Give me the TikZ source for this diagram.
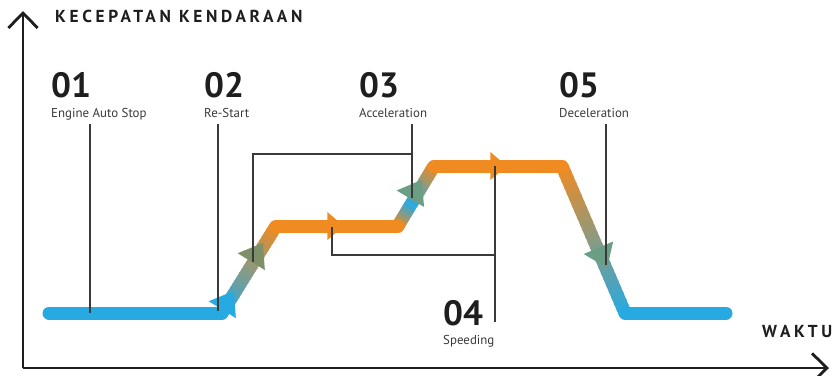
\documentclass[tikz,border=0pt]{standalone}
\usepackage{fontspec}
\setmainfont{PT Sans}
\newfontfamily\spaced[LetterSpace=21]{PT Sans}
\usetikzlibrary{arrows.meta,calc}

\definecolor{flowblue}{HTML}{27A9E1}
\definecolor{flowor}{HTML}{F08B21}
\definecolor{tipolive}{HTML}{7E9068}
\definecolor{tipgreen}{HTML}{6A9E85}
\definecolor{axisdark}{HTML}{1E1E1E}
\definecolor{leaddark}{HTML}{3A3A3A}

\tikzset{
  flowbar/.style={line width=3.9mm, line cap=round},
  leadline/.style={line width=0.55mm, draw=leaddark},
  axisline/.style={line width=0.85mm, draw=axisdark, -{Straight Barb[length=4.5mm, width=8.8mm]}},
  numlbl/.style={anchor=base west, inner sep=0pt, text=axisdark, font=\bfseries\fontsize{30}{30}\selectfont},
  sublbl/.style={anchor=base west, inner sep=0pt, text=leaddark, font=\fontsize{11}{11}\selectfont},
  titlelbl/.style={anchor=base west, inner sep=0pt, text=axisdark, font=\spaced\bfseries\fontsize{14.8}{14.8}\selectfont},
  flowtip/.pic={\fill[pic actions] (13,0) -- (-9,16) -- (-9,-16) -- cycle;}
}

% fading piece of the bar, from #1 to #2, colour #3 to #4
\newcommand\fadeseg[4]{%
  \foreach \i in {0,...,23}{
    \pgfmathsetmacro\ta{\i/24}
    \pgfmathsetmacro\tb{min(1,(\i+1.4)/24)}
    \pgfmathsetmacro\mix{100-100*(\i+0.5)/24}
    \draw[line width=3.9mm, draw=#3!\mix!#4] ($(#1)!\ta!(#2)$) -- ($(#1)!\tb!(#2)$);
  }}

\begin{document}
\begin{tikzpicture}[x=0.3mm, y=-0.3mm]
  \useasboundingbox (0,0) rectangle (835,375);

  % axes
  \coordinate (o) at (23,368);
  \draw[axisline] (o) -- (23,11) coordinate (ytop);
  \draw[axisline] (o) -- (829,368) coordinate (xend);
  \node[titlelbl] (ylbl) at (55,22) {KECEPATAN KENDARAAN};
  \node[titlelbl] (xlbl) at (762,337) {WAKTU};

  % corners of the speed curve
  \coordinate (p0) at (49,313);
  \coordinate (p1) at (222,313);
  \coordinate (p2) at (276,226);
  \coordinate (p3) at (398,226);
  \coordinate (p4) at (434,166);
  \coordinate (p5) at (562,166);
  \coordinate (p6) at (625,313);
  \coordinate (p7) at (726,313);
  \coordinate (m2) at ($(p3)!0.35!(p4)$);

  \fadeseg{p1}{p2}{flowblue}{flowor}
  \fadeseg{p3}{m2}{flowor}{flowblue}
  \fadeseg{m2}{p4}{flowblue}{flowor}
  \fadeseg{p5}{p6}{flowor}{flowblue}
  \draw[flowbar, flowblue] (p0) -- (p1);
  \draw[flowbar, flowor] (p2) -- (p3);
  \draw[flowbar, flowor] (p4) -- (p5);
  \draw[flowbar, flowblue] (p6) -- (p7);

  % direction marks
  \pic[rotate=58.2, fill=flowblue] at (227,302) {flowtip};
  \pic[rotate=58.2, fill=tipolive] at (256,254) {flowtip};
  \pic[fill=flowor, xscale=0.75, yscale=0.88] at (334,226) {flowtip};
  \pic[rotate=59, fill=tipgreen] at (415,191) {flowtip};
  \pic[fill=flowor, xscale=0.75, yscale=0.88] at (497,166) {flowtip};
  \pic[rotate=-66.8, fill=tipgreen] at (602,256) {flowtip};

  % leader ends
  \coordinate (t1) at (90,313);
  \coordinate (t2) at (218,311);
  \coordinate (t3) at (412,198);
  \coordinate (j3) at (412,154);
  \coordinate (t3b) at (253,262);
  \coordinate (t4) at (495,166);
  \coordinate (j4) at (495,255);
  \coordinate (t4b) at (332,227);
  \coordinate (t5) at (606,265);

  % labels
  \node[numlbl] (n1) at (51,97) {01};
  \node[sublbl] (c1) at (51,117) {Engine Auto Stop};
  \node[numlbl] (n2) at (204,97) {02};
  \node[sublbl] (c2) at (204,117) {Re-Start};
  \node[numlbl] (n3) at (359,97) {03};
  \node[sublbl] (c3) at (359,117) {Acceleration};
  \node[numlbl] (n4) at (443,325) {04};
  \node[sublbl] (c4) at (443,344) {Speeding};
  \node[numlbl] (n5) at (559,97) {05};
  \node[sublbl] (c5) at (559,117) {Deceleration};

  % leaders
  \draw[leadline] ([yshift=-2.1mm]c1.base -| t1) -- (t1);
  \draw[leadline] ([yshift=-2.1mm]c2.base -| t2) -- (t2);
  \draw[leadline] ([yshift=-2.1mm]c3.base -| t3) -- (t3);
  \draw[leadline] (t3b) |- (j3);
  \draw[leadline] ([yshift=0.9mm]n4.base -| t4) -- (t4);
  \draw[leadline] (t4b) |- (j4);
  \draw[leadline] ([yshift=-2.1mm]c5.base -| t5) -- (t5);
\end{tikzpicture}
\end{document}
